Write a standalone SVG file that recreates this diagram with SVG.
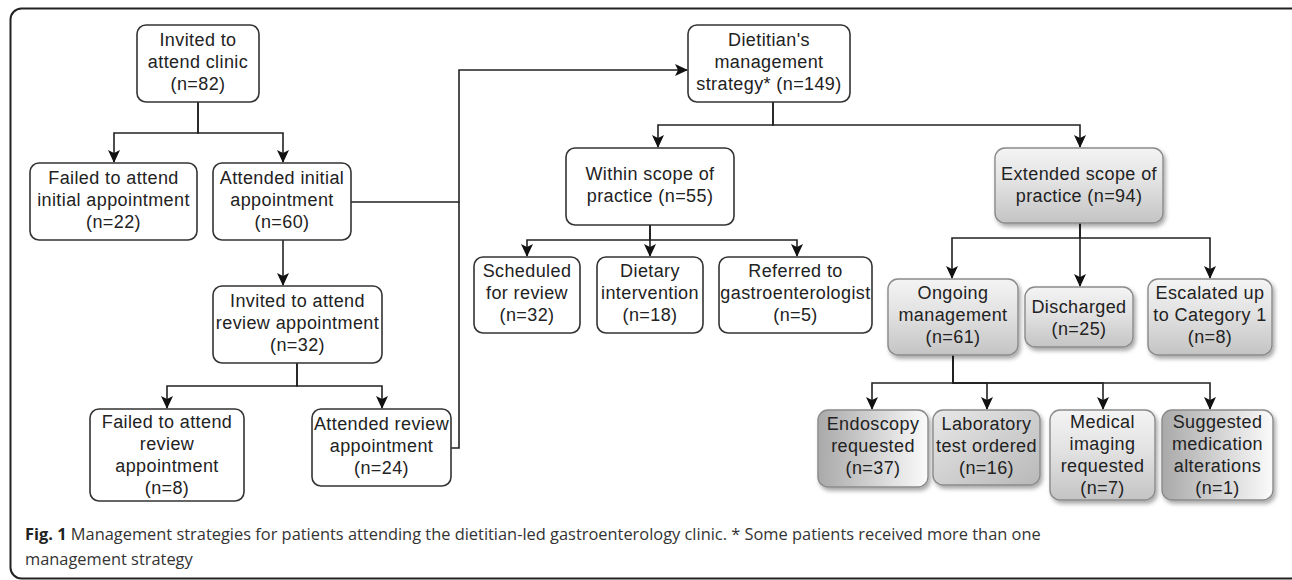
<svg xmlns="http://www.w3.org/2000/svg" width="1292" height="580" viewBox="0 0 1292 580">
<style>
.box{fill:#fff;stroke:#333;stroke-width:1.6}
.gbox{stroke:#8a8a8a;stroke-width:1.4;filter:url(#sh)}
.t{font-family:"Liberation Sans",Arial,sans-serif;font-size:18px;fill:#222;text-anchor:middle;letter-spacing:0.4px}
.ln{fill:none;stroke:#222;stroke-width:1.6}
.arr{marker-end:url(#ah)}
.cap{font-family:"Open Sans",sans-serif;font-size:16.4px;fill:#333}
</style>
<defs>
<marker id="ah" markerUnits="userSpaceOnUse" markerWidth="14" markerHeight="14" refX="12" refY="6" orient="auto">
<path d="M0,0 L13,6 L0,12 L3,6 z" fill="#111"/>
</marker>
<linearGradient id="gv" x1="0" y1="0" x2="0" y2="1">
<stop offset="0" stop-color="#f4f4f4"/><stop offset="0.45" stop-color="#e2e2e2"/><stop offset="1" stop-color="#c4c4c4"/>
</linearGradient>
<linearGradient id="gh" x1="0" y1="0" x2="1" y2="0">
<stop offset="0" stop-color="#a9a9a9"/><stop offset="0.55" stop-color="#d6d6d6"/><stop offset="1" stop-color="#fbfbfb"/>
</linearGradient>
<linearGradient id="gd" x1="0" y1="0" x2="1" y2="1">
<stop offset="0" stop-color="#e8e8e8"/><stop offset="1" stop-color="#b8b8b8"/>
</linearGradient>
<filter id="sh" x="-10%" y="-10%" width="130%" height="140%">
<feDropShadow dx="2" dy="3" stdDeviation="2" flood-color="#000" flood-opacity="0.35"/>
</filter>
</defs>
<rect x="10.5" y="8.5" width="1292" height="570" rx="11" fill="none" stroke="#222" stroke-width="2"/>

<g id="connectors">
<path class="ln arr" d="M198,102 V133 H114 V162"/>
<path class="ln arr" d="M198,102 V133 H283 V162"/>
<path class="ln arr" d="M283,240 V285"/>
<path class="ln arr" d="M297,363 V386 H167 V408"/>
<path class="ln arr" d="M297,363 V386 H382 V408"/>
<path class="ln arr" d="M351,202 H459 V70 H687"/>
<path class="ln" d="M451,448 H459 V202"/>
<path class="ln arr" d="M773,102 V125 H658 V147"/>
<path class="ln arr" d="M773,102 V125 H1080 V147"/>
<path class="ln arr" d="M650,225 V240 H527 V256"/>
<path class="ln arr" d="M650,225 V256"/>
<path class="ln arr" d="M650,225 V240 H797 V256"/>
<path class="ln arr" d="M1080,223 V238 H952 V278"/>
<path class="ln arr" d="M1080,223 V286"/>
<path class="ln arr" d="M1080,223 V238 H1210 V278"/>
<path class="ln arr" d="M953,355 V383 H872 V409"/>
<path class="ln arr" d="M953,355 V383 H987 V409"/>
<path class="ln arr" d="M953,355 V383 H1103 V409"/>
<path class="ln arr" d="M953,355 V383 H1210 V409"/>
</g>

<g id="n-invited-clinic"><rect class="box" x="137" y="25" width="122" height="77" rx="9"/>
<text class="t" x="198"><tspan x="198" y="46">Invited to</tspan><tspan x="198" y="68">attend clinic</tspan><tspan x="198" y="90">(n=82)</tspan></text></g>

<g id="n-failed-initial"><rect class="box" x="30" y="163" width="167" height="77" rx="9"/>
<text class="t"><tspan x="113.5" y="184">Failed to attend</tspan><tspan x="113.5" y="206">initial appointment</tspan><tspan x="113.5" y="228">(n=22)</tspan></text></g>

<g id="n-attended-initial"><rect class="box" x="213" y="163" width="138" height="77" rx="9"/>
<text class="t"><tspan x="282" y="184">Attended initial</tspan><tspan x="282" y="206">appointment</tspan><tspan x="282" y="228">(n=60)</tspan></text></g>

<g id="n-invited-review"><rect class="box" x="213" y="286" width="169" height="77" rx="9"/>
<text class="t"><tspan x="297.5" y="307">Invited to attend</tspan><tspan x="297.5" y="329">review appointment</tspan><tspan x="297.5" y="351">(n=32)</tspan></text></g>

<g id="n-failed-review"><rect class="box" x="90" y="409" width="154" height="92" rx="9"/>
<text class="t"><tspan x="167" y="428">Failed to attend</tspan><tspan x="167" y="450">review</tspan><tspan x="167" y="472">appointment</tspan><tspan x="167" y="494">(n=8)</tspan></text></g>

<g id="n-attended-review"><rect class="box" x="312" y="409" width="139" height="77" rx="9"/>
<text class="t"><tspan x="381.5" y="430">Attended review</tspan><tspan x="381.5" y="452">appointment</tspan><tspan x="381.5" y="474">(n=24)</tspan></text></g>

<g id="n-dietitian"><rect class="box" x="688" y="25" width="162" height="77" rx="9"/>
<text class="t"><tspan x="769" y="46">Dietitian's</tspan><tspan x="769" y="68">management</tspan><tspan x="769" y="90">strategy* (n=149)</tspan></text></g>

<g id="n-within"><rect class="box" x="566" y="148" width="168" height="77" rx="9"/>
<text class="t"><tspan x="650" y="180">Within scope of</tspan><tspan x="650" y="202">practice (n=55)</tspan></text></g>

<g id="n-scheduled"><rect class="box" x="474" y="257" width="106" height="76" rx="9"/>
<text class="t"><tspan x="527" y="277">Scheduled</tspan><tspan x="527" y="299">for review</tspan><tspan x="527" y="321">(n=32)</tspan></text></g>

<g id="n-dietary"><rect class="box" x="597" y="257" width="106" height="76" rx="9"/>
<text class="t"><tspan x="650" y="277">Dietary</tspan><tspan x="650" y="299">intervention</tspan><tspan x="650" y="321">(n=18)</tspan></text></g>

<g id="n-referred"><rect class="box" x="719" y="257" width="153" height="76" rx="9"/>
<text class="t"><tspan x="795.5" y="277">Referred to</tspan><tspan x="795.5" y="299">gastroenterologist</tspan><tspan x="795.5" y="321">(n=5)</tspan></text></g>

<g id="n-extended"><rect class="gbox" fill="url(#gv)" x="995" y="148" width="168" height="75" rx="10"/>
<text class="t"><tspan x="1079" y="180">Extended scope of</tspan><tspan x="1079" y="202">practice (n=94)</tspan></text></g>

<g id="n-ongoing"><rect class="gbox" fill="url(#gv)" x="888" y="279" width="130" height="76" rx="10"/>
<text class="t"><tspan x="953" y="299">Ongoing</tspan><tspan x="953" y="321">management</tspan><tspan x="953" y="343">(n=61)</tspan></text></g>

<g id="n-discharged"><rect class="gbox" fill="url(#gv)" x="1025" y="287" width="108" height="60" rx="10"/>
<text class="t"><tspan x="1079" y="313">Discharged</tspan><tspan x="1079" y="335">(n=25)</tspan></text></g>

<g id="n-escalated"><rect class="gbox" fill="url(#gv)" x="1148" y="279" width="124" height="76" rx="10"/>
<text class="t"><tspan x="1210" y="299">Escalated up</tspan><tspan x="1210" y="321">to Category 1</tspan><tspan x="1210" y="343">(n=8)</tspan></text></g>

<g id="n-endoscopy"><rect class="gbox" fill="url(#gh)" x="818" y="410" width="110" height="77" rx="10"/>
<text class="t"><tspan x="873" y="430">Endoscopy</tspan><tspan x="873" y="452">requested</tspan><tspan x="873" y="474">(n=37)</tspan></text></g>

<g id="n-laboratory"><rect class="gbox" fill="url(#gd)" x="933" y="410" width="107" height="75" rx="10"/>
<text class="t"><tspan x="986.5" y="430">Laboratory</tspan><tspan x="986.5" y="452">test ordered</tspan><tspan x="986.5" y="474">(n=16)</tspan></text></g>

<g id="n-medical"><rect class="gbox" fill="url(#gv)" x="1050" y="410" width="105" height="90" rx="10"/>
<text class="t"><tspan x="1102.5" y="428">Medical</tspan><tspan x="1102.5" y="450">imaging</tspan><tspan x="1102.5" y="472">requested</tspan><tspan x="1102.5" y="494">(n=7)</tspan></text></g>

<g id="n-suggested"><rect class="gbox" fill="url(#gh)" x="1162" y="410" width="111" height="90" rx="10"/>
<text class="t"><tspan x="1217.5" y="428">Suggested</tspan><tspan x="1217.5" y="450">medication</tspan><tspan x="1217.5" y="472">alterations</tspan><tspan x="1217.5" y="494">(n=1)</tspan></text></g>

<g id="caption">
<text class="cap" x="25" y="540"><tspan font-weight="bold" fill="#222">Fig. 1</tspan> Management strategies for patients attending the dietitian-led gastroenterology clinic. * Some patients received more than one</text>
<text class="cap" x="25" y="565">management strategy</text>
</g>
</svg>
